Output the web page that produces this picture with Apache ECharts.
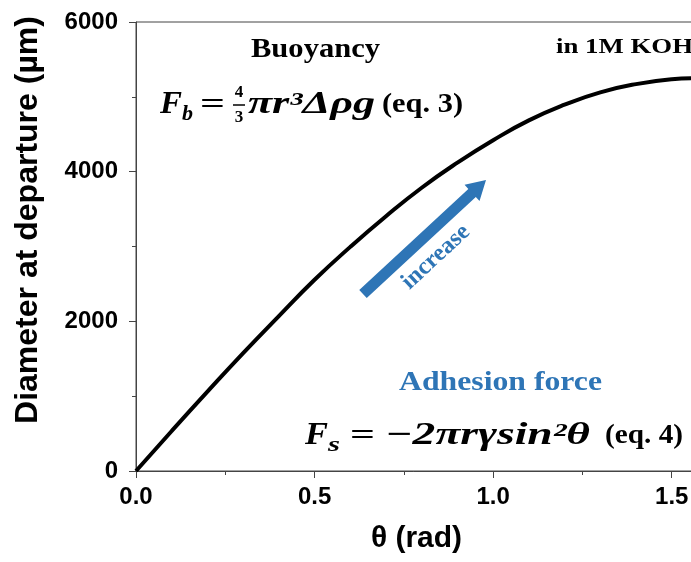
<!DOCTYPE html>
<html>
<head>
<meta charset="utf-8">
<script src="https://cdn.jsdelivr.net/npm/echarts@6/dist/echarts.min.js"></script>
<style>html,body{margin:0;padding:0;background:#fff;}#c{width:691px;height:562px;}</style>
</head>
<body>
<div id="c"></div>
<script>
// Data
const theta = [0, 0.1, 0.2, 0.3, 0.4, 0.5, 0.6, 0.7, 0.8, 0.9, 1.0, 1.1, 1.2, 1.3, 1.4, 1.5, 1.57];
const diameter = [0, 535, 1060, 1575, 2070, 2555, 2995, 3405, 3785, 4120, 4420, 4685, 4895, 5060, 5170, 5235, 5250];
const xTickLabels = ['0.0', '0.5', '1.0', '1.5'];
const yTickLabels = ['0', '2000', '4000', '6000'];
const yAxisTitle = 'Diameter at departure (µm)';
const xAxisTitle = 'θ (rad)';

const SANS = 'Arial, "Liberation Sans", sans-serif';
const SERIF = '"Times New Roman", "Liberation Serif", serif';
const BLUE = '#2E75B6';

const mctx = document.createElement('canvas').getContext('2d');
function fontStr(size, opts) {
  return (opts.italic ? 'italic ' : '') + 'bold ' + size + 'px ' + (opts.family || SERIF);
}
// text annotation; if width given, stretch horizontally to that width
function txt(x, y, text, size, opts) {
  opts = opts || {};
  const font = fontStr(size, opts);
  let sx = 1;
  if (opts.width) {
    mctx.font = font;
    sx = opts.width / mctx.measureText(text).width;
  }
  return {
    type: 'text', x: x, y: y, silent: true, rotation: opts.rotation || 0, scaleX: sx,
    style: {
      text: text,
      fill: opts.color || '#000',
      font: font,
      textAlign: opts.align || 'left',
      textVerticalAlign: 'middle',
      verticalAlign: 'middle'
    }
  };
}

// arrow geometry (annotation)
const tail = [363, 294], tip = [486, 180];
const dx = tip[0] - tail[0], dy = tip[1] - tail[1];
const L = Math.sqrt(dx * dx + dy * dy);
const ux = dx / L, uy = dy / L, nx = -uy, ny = ux;
const headLen = 19, headHalf = 11, shaftHalf = 5.5;
const bx = tip[0] - ux * headLen, by = tip[1] - uy * headLen;
const arrowPts = [
  [tail[0] + nx * shaftHalf, tail[1] + ny * shaftHalf],
  [bx + nx * shaftHalf, by + ny * shaftHalf],
  [bx + nx * headHalf, by + ny * headHalf],
  tip,
  [bx - nx * headHalf, by - ny * headHalf],
  [bx - nx * shaftHalf, by - ny * shaftHalf],
  [tail[0] - nx * shaftHalf, tail[1] - ny * shaftHalf]
];
const arrowAngle = Math.atan2(-dy, dx);

const chart = echarts.init(document.getElementById('c'));
chart.setOption({
  animation: false,
  backgroundColor: '#fff',
  grid: { left: 136, top: 22, right: -6, bottom: 91, show: true, borderColor: '#444', borderWidth: 1, containLabel: false, outerBoundsMode: 'none' },
  xAxis: {
    type: 'value', min: 0, max: 1.5708, interval: 0.5,
    name: xAxisTitle, nameLocation: 'middle', nameGap: 53,
    nameTextStyle: { fontSize: 30, fontWeight: 'bold', color: '#000', fontFamily: SANS },
    axisLine: { show: true, lineStyle: { color: '#444', width: 1 } },
    axisTick: { show: true, length: 7, lineStyle: { color: '#444' } },
    minorTick: { show: true, splitNumber: 2, length: 4, lineStyle: { color: '#444' } },
    splitLine: { show: false },
    axisLabel: { margin: 14, fontSize: 24, fontWeight: 'bold', color: '#000', fontFamily: SANS,
      formatter: v => xTickLabels[Math.round(v / 0.5)] }
  },
  yAxis: {
    type: 'value', min: 0, max: 6000, interval: 2000,
    axisLine: { show: true, lineStyle: { color: '#444', width: 1 } },
    axisTick: { show: true, length: 7, lineStyle: { color: '#444' } },
    minorTick: { show: true, splitNumber: 2, length: 4, lineStyle: { color: '#444' } },
    splitLine: { show: false },
    axisLabel: { margin: 18, fontSize: 24, fontWeight: 'bold', color: '#000', fontFamily: SANS,
      formatter: v => yTickLabels[Math.round(v / 2000)] }
  },
  series: [{
    type: 'line', smooth: true, showSymbol: false,
    lineStyle: { color: '#000', width: 4 },
    data: theta.map((t, i) => [t, diameter[i]])
  }],
  graphic: [
    // y-axis title (placed off-centre as in the reference)
    txt(28, 220, yAxisTitle, 32, { family: SANS, align: 'center', rotation: Math.PI / 2 }),
    txt(251, 50, 'Buoyancy', 28, { width: 129 }),
    txt(556, 47, 'in 1M KOH', 22, { width: 137 }),
    // eq. 3
    txt(160, 105, 'F', 31, { italic: true, width: 22 }),
    txt(182, 115, 'b', 20, { italic: true, width: 11 }),
    txt(200, 105, '=', 30, { width: 25 }),
    txt(239, 93, '4', 17, { align: 'center' }),
    { type: 'line', silent: true, shape: { x1: 233, y1: 105, x2: 245, y2: 105 }, style: { stroke: '#000', lineWidth: 1.5 } },
    txt(239, 118, '3', 17, { align: 'center' }),
    txt(248, 105, 'πr³Δρg', 31, { italic: true, width: 127 }),
    txt(382, 105, '(eq. 3)', 28, { width: 81 }),
    // adhesion
    txt(399, 383, 'Adhesion force', 28, { color: BLUE, width: 203 }),
    // eq. 4
    txt(305, 436, 'F', 31, { italic: true, width: 23 }),
    txt(328, 446, 's', 20, { italic: true, width: 12 }),
    txt(350, 436, '=', 30, { width: 25 }),
    txt(385, 436, '−2πrγsin²θ', 31, { italic: true, width: 205 }),
    txt(605, 436, '(eq. 4)', 28, { width: 78 }),
    // arrow
    { type: 'polygon', silent: true, shape: { points: arrowPts }, style: { fill: BLUE } },
    txt(436, 257, 'increase', 24, { align: 'center', color: BLUE, rotation: arrowAngle })
  ]
});
</script>
</body>
</html>
